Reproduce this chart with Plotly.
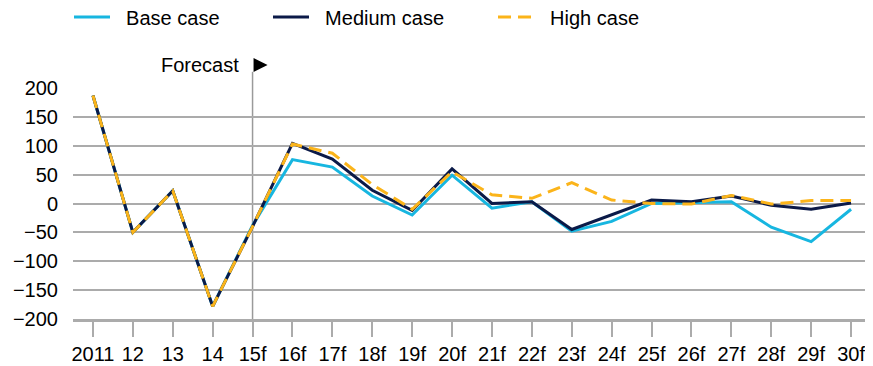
import plotly.graph_objects as go

# years on the x axis (2011-14 actual, 15f onwards forecast)
years = ["2011", "12", "13", "14", "15f", "16f", "17f", "18f", "19f", "20f",
         "21f", "22f", "23f", "24f", "25f", "26f", "27f", "28f", "29f", "30f"]

base_case = [187, -50, 22, -178, -38, 76, 63, 13, -20, 49,
             -8, 3, -48, -31, 0, 1, 3, -41, -66, -10]
medium_case = [187, -50, 22, -178, -40, 104, 77, 23, -12, 60,
               0, 3, -45, -20, 6, 3, 13, -3, -10, 1]
high_case = [187, -50, 22, -178, -40, 103, 87, 33, -10, 55,
             15, 9, 36, 6, 0, -1, 14, -1, 5, 5]

y_ticks = [-200, -150, -100, -50, 0, 50, 100, 150, 200]

FONT = "Liberation Sans, Arial, sans-serif"
GRID = "#ababab"
W, H = 865, 358   # page body adds an 8px margin

fig = go.Figure()
fig.add_trace(go.Scatter(x=years, y=base_case, name="\u00a0\u00a0Base case", mode="lines",
                         line=dict(color="#17b6e0", width=3), legend="legend"))
fig.add_trace(go.Scatter(x=years, y=medium_case, name="\u00a0\u00a0Medium case", mode="lines",
                         line=dict(color="#0b1a48", width=3), legend="legend2"))
fig.add_trace(go.Scatter(x=years, y=high_case, name="\u00a0\u00a0High case", mode="lines",
                         line=dict(color="#fbb41a", width=3, dash="13px,7px"),
                         legend="legend3"))

# forecast divider
fig.add_shape(type="line", xref="x", yref="paper", x0="15f", x1="15f",
              y0=0, y1=1.07, line=dict(color="#9a9a9a", width=1.5), layer="below")
fig.add_shape(type="path", xref="x", yref="paper", xsizemode="pixel",
              ysizemode="pixel", xanchor=4, yanchor=1.1,
              path="M1,-7 L15,0 L1,7 Z", fillcolor="black", line=dict(width=0))
fig.add_annotation(text="Forecast", xref="x", yref="paper", x=4, y=1.1,
                   xanchor="right", yanchor="middle", xshift=-12, showarrow=False,
                   font=dict(size=20, color="black", family=FONT))

leg = dict(orientation="h", xref="container", yref="container",
           yanchor="middle", y=1 - 9 / H, xanchor="left",
           font=dict(size=20, color="black", family=FONT),
           bgcolor="rgba(0,0,0,0)", itemwidth=36)

fig.update_layout(
    width=W, height=H,
    margin=dict(l=65, r=2, t=80, b=47, autoexpand=False),
    paper_bgcolor="white", plot_bgcolor="white",
    font=dict(family=FONT, size=20, color="black"),
    showlegend=True,
    legend=dict(leg, x=61 / W),
    legend2=dict(leg, x=260 / W),
    legend3=dict(leg, x=485 / W),
    xaxis=dict(type="category", range=[-0.5, 19.5], showgrid=False,
               showline=True, linecolor=GRID, linewidth=2.5,
               ticks="outside", ticklen=15, tickwidth=1.5, tickcolor=GRID,
               tickfont=dict(size=20)),
    yaxis=dict(range=[-200, 200], tickvals=y_ticks, showgrid=True,
               gridcolor=GRID, gridwidth=1.5, zeroline=False, showline=False,
               ticks="", ticklabelstandoff=14, tickfont=dict(size=20)),
)

fig.write_html("out.html")
